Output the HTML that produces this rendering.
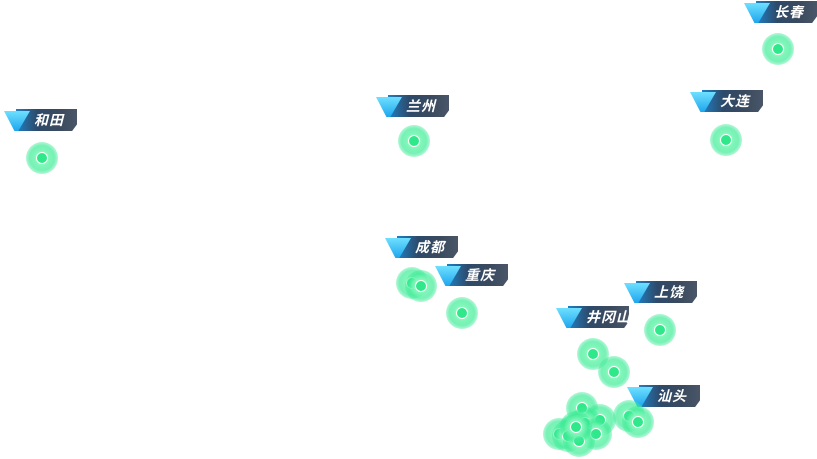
<!DOCTYPE html>
<html><head><meta charset="utf-8"><style>
html,body{margin:0;padding:0;background:#fff;width:817px;height:459px;overflow:hidden;position:relative}
.lb{position:absolute;width:75px;height:24px}
.lb .bx{position:absolute;left:12px;top:0;width:61px;height:22px;background:linear-gradient(90deg,#1f7fc4 0%,#2d4a6a 35%,#3a4a5e 70%,#4a5668 100%);clip-path:polygon(0 0,100% 0,100% 70%,92% 100%,0 100%)}
.lb .tri{position:absolute;left:0;top:2px;width:26px;height:20px;background:linear-gradient(180deg,#6fe0ff,#1ea6ee);clip-path:polygon(0 0,100% 0,55% 100%,40% 100%)}
.lb span{position:absolute;left:30px;top:2px;color:#fff;font:italic bold 14px "Liberation Sans","Noto Sans CJK SC",sans-serif;letter-spacing:1px;line-height:18px;white-space:nowrap}
.d{position:absolute;width:32px;height:32px;margin:-16px 0 0 -16px;border-radius:50%;background:radial-gradient(circle,rgba(200,255,225,1) 0,rgba(120,245,180,.95) 35%,rgba(60,235,150,.7) 55%,rgba(60,235,150,.25) 78%,rgba(60,235,150,0) 100%)}
.d::after{content:"";position:absolute;left:10px;top:10px;width:10px;height:10px;border-radius:50%;background:#2ee88a;border:1px solid #fff}
</style></head><body>
<div class="lb" style="left:4px;top:109px"><div class="bx"></div><div class="tri"></div><span>和田</span></div>
<div class="lb" style="left:376px;top:95px"><div class="bx"></div><div class="tri"></div><span>兰州</span></div>
<div class="lb" style="left:744px;top:1px"><div class="bx"></div><div class="tri"></div><span>长春</span></div>
<div class="lb" style="left:690px;top:90px"><div class="bx"></div><div class="tri"></div><span>大连</span></div>
<div class="lb" style="left:385px;top:236px"><div class="bx"></div><div class="tri"></div><span>成都</span></div>
<div class="lb" style="left:435px;top:264px"><div class="bx"></div><div class="tri"></div><span>重庆</span></div>
<div class="lb" style="left:624px;top:281px"><div class="bx"></div><div class="tri"></div><span>上饶</span></div>
<div class="lb" style="left:556px;top:306px"><div class="bx"></div><div class="tri"></div><span>井冈山</span></div>
<div class="lb" style="left:627px;top:385px"><div class="bx"></div><div class="tri"></div><span>汕头</span></div>

<div class="d" style="left:42px;top:158px"></div>
<div class="d" style="left:414px;top:141px"></div>
<div class="d" style="left:778px;top:49px"></div>
<div class="d" style="left:726px;top:140px"></div>
<div class="d" style="left:412px;top:283px"></div>
<div class="d" style="left:421px;top:286px"></div>
<div class="d" style="left:462px;top:313px"></div>
<div class="d" style="left:660px;top:330px"></div>
<div class="d" style="left:593px;top:354px"></div>
<div class="d" style="left:614px;top:372px"></div>
<div class="d" style="left:629px;top:416px"></div>
<div class="d" style="left:638px;top:422px"></div>
<div class="d" style="left:582px;top:408px"></div>
<div class="d" style="left:600px;top:420px"></div>
<div class="d" style="left:585px;top:423px"></div>
<div class="d" style="left:573px;top:431px"></div>
<div class="d" style="left:596px;top:434px"></div>
<div class="d" style="left:559px;top:434px"></div>
<div class="d" style="left:568px;top:436px"></div>
<div class="d" style="left:579px;top:441px"></div>
<div class="d" style="left:576px;top:427px"></div>
</body></html>
